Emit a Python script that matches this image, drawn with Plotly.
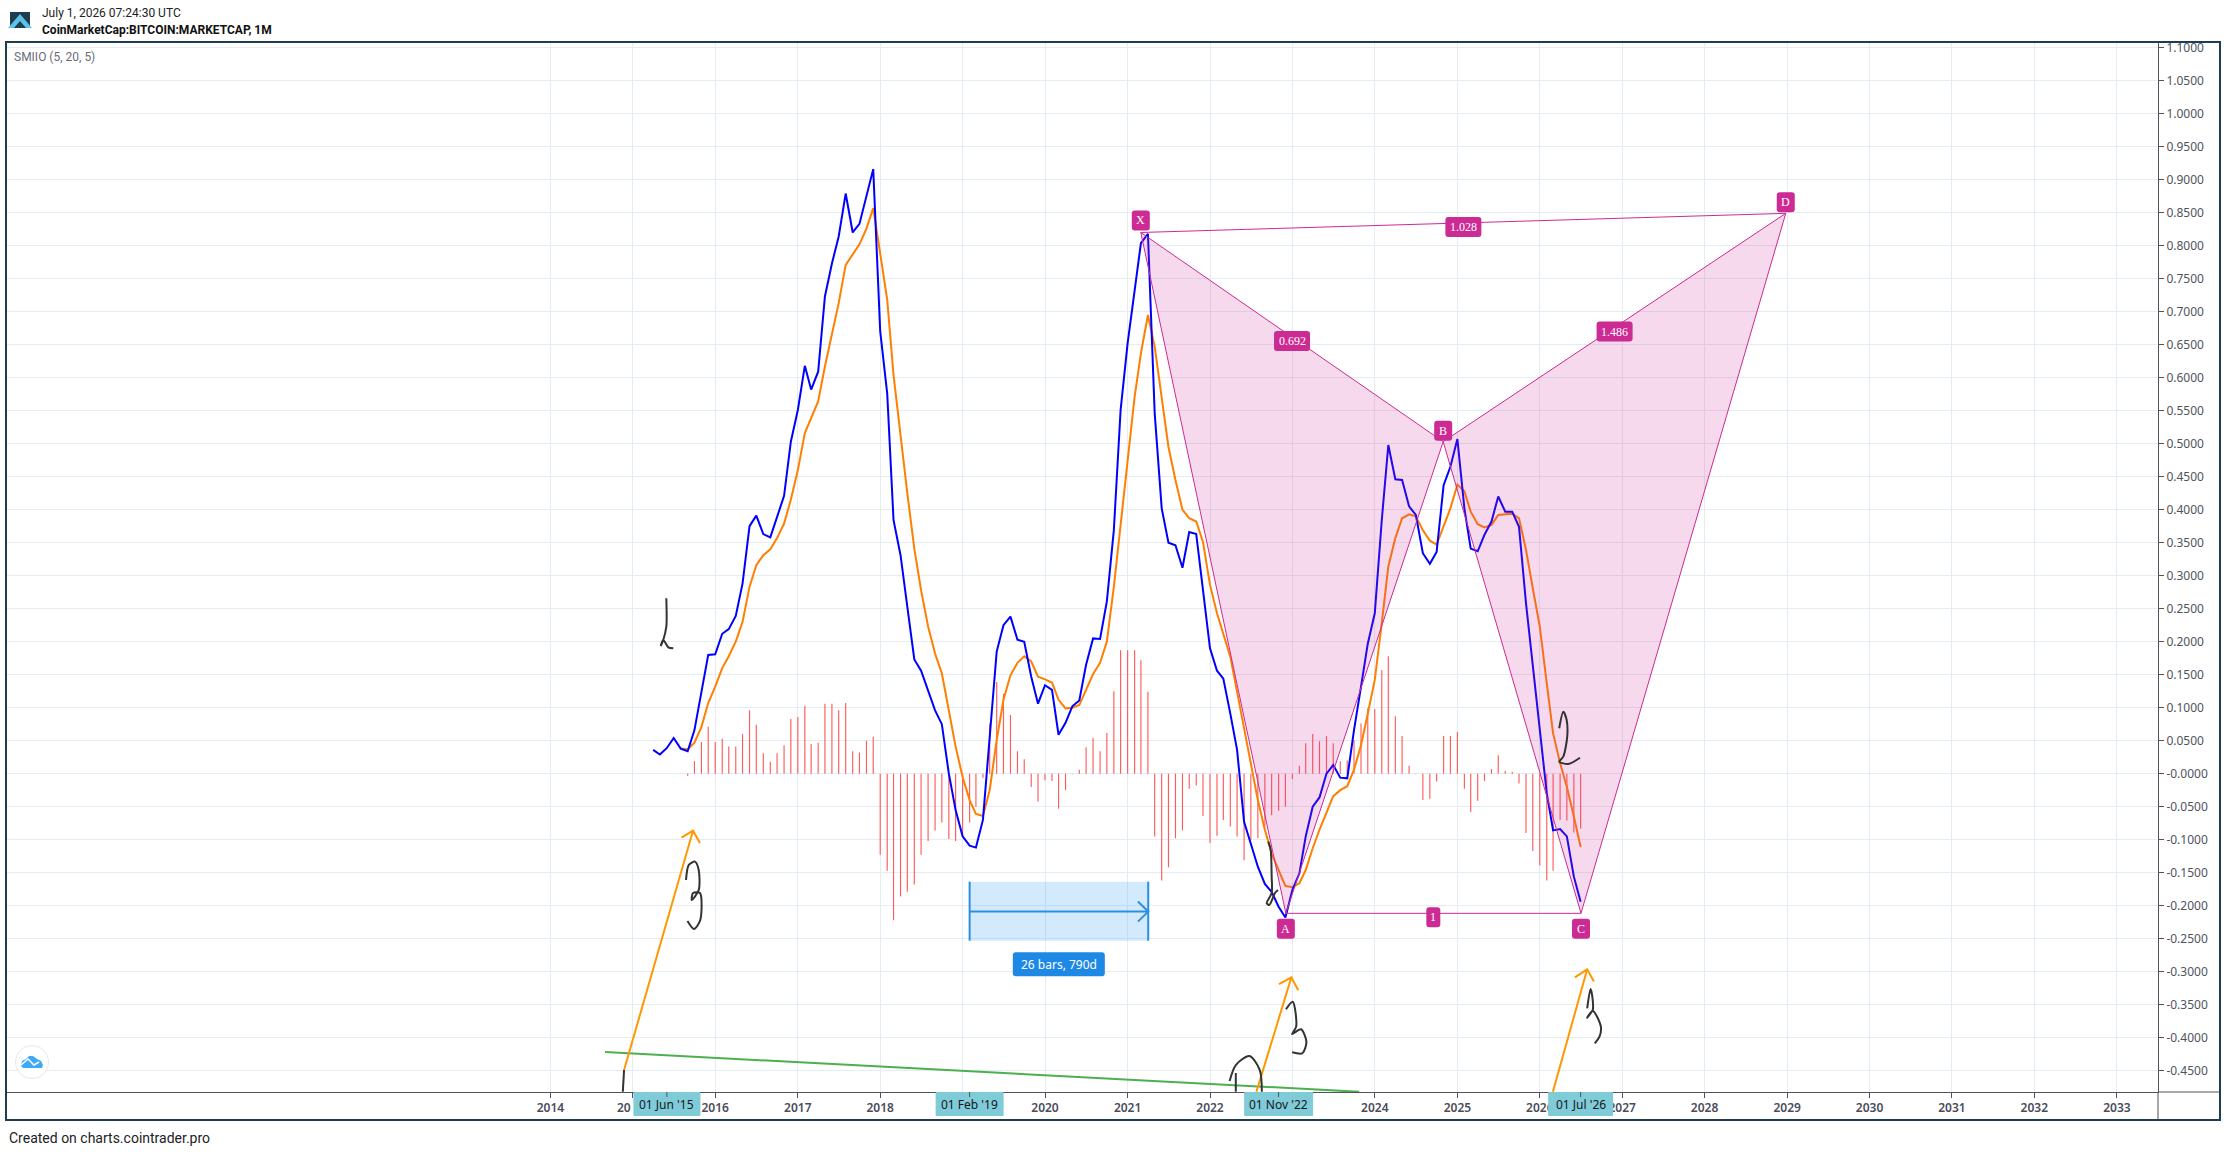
from datetime import datetime, timedelta

import pandas as pd
import plotly.graph_objects as go

# monthly SMIIO values
smi_start = "2015-04-01"
smi_values = [
    .036, .029, .039, .054, .038, .034, .066, .123, .18,
    .181, .212, .219, .239, .288, .375, .391, .363, .358, .39, .421, .503,
    .551, .618, .582, .609, .723, .773, .814, .879, .82, .833, .877, .916,
    .67, .576, .384, .331, .253, .173, .156, .127, .096, .075, .0, -.055,
    -.095, -.109, -.112, -.07, .061, .185, .225, .238, .203, .2, .147, .106,
    .134, .127, .059, .077, .102, .111, .165, .205, .204, .261, .369, .551,
    .652, .733, .804, .818, .546, .402, .35, .346, .312, .366, .363, .278,
    .19, .156, .144, .091, .036, -.073, -.108, -.141, -.167, -.179, -.2015, -.218,
    -.176, -.151, -.095, -.05, -.036, 0, .013, -.006, -.007, .066, .132, .197,
    .243, .384, .498, .446, .445, .405, .392, .334, .318, .336, .437, .465,
    .507, .402, .341, .337, .362, .382, .42, .397, .397, .374, .258, .167,
    .066, -.03, -.086, -.084, -.095, -.156, -.194,
]
signal_start = "2015-08-01"
signal_values = [
    .038, .037, .047, .071, .107,
    .132, .16, .178, .2, .23, .283, .316, .331, .34, .357, .379, .415,
    .46, .516, .538, .564, .617, .667, .713, .771, .787, .802, .826, .857,
    .788, .718, .604, .511, .425, .341, .278, .223, .182, .152, .096, .041,
    -.005, -.04, -.061, -.064, -.025, .051, .112, .149, .168, .178, .17, .147,
    .143, .138, .112, .099, .1, .104, .127, .151, .168, .2, .283, .374,
    .47, .571, .637, .695, .647, .571, .495, .445, .4, .387, .382, .351,
    .286, .243, .21, .177, .124, .069, .011, -.04, -.085, -.121, -.146, -.17,
    -.172, -.166, -.146, -.113, -.085, -.058, -.034, -.025, -.019, .006, .043, .091,
    .142, .228, .314, .357, .387, .393, .39, .369, .353, .347, .374, .402,
    .438, .428, .397, .378, .373, .377, .392, .393, .394, .387, .339, .281,
    .223, .137, .061, .016, -.02, -.065, -.111,
]
hist_start = "2015-09-01"
hist_values = [
    -.003, .019, .048, .071,
    .048, .053, .041, .041, .06, .096, .074, .031, .018, .031, .043, .083,
    .086, .103, .045, .047, .106, .106, .096, .107, .034, .032, .05, .056,
    -.123, -.147, -.222, -.186, -.179, -.168, -.123, -.102, -.086, -.074, -.099, -.102,
    -.095, -.074, -.05, -.006, .076, .139, .121, .089, .034, .022, -.02, -.042,
    -.01, -.011, -.053, -.025, -.001, .006, .04, .054, .034, .062, .125, .187,
    .187, .187, .172, .124, -.095, -.162, -.142, -.098, -.086, -.023, -.018, -.064,
    -.105, -.094, -.07, -.08, -.095, -.131, -.1, -.098, -.08, -.063, -.056, -.05,
    -.008, .012, .046, .06, .049, .057, .046, .019, .02, .051, .076, .099,
    .098, .157, .178, .087, .057, .012, -.001, -.04, -.038, -.012, .057, .057,
    .063, -.023, -.058, -.041, -.011, .007, .028, .004, .003, -.015, -.09, -.117,
    -.139, -.162, -.147, -.07, -.071, -.089, -.083,
]

# XABCD pattern
pattern_names = ["X", "A", "B", "C", "D"]
pattern_years = [2021.16, 2022.92, 2024.83, 2026.5, 2028.985]
pattern_values = [.82, -.2116, .503, -.2116, .849]
ratio_labels = [("X", "D", "1.028"), ("X", "B", "0.692"), ("B", "D", "1.486"), ("A", "C", "1")]

# date range tool
range_years = [2019.085, 2021.25]
range_values = [-.1636, -.253]
range_mid = -.209
range_label = "26 bars, 790d"

trend_years = [2014.662, 2023.81]
trend_values = [-.4217, -.482]

# orange arrows: shaft plus head, as (years, values)
arrows = [
    ([2014.893, 2015.73, 2015.59, 2015.73, 2015.814], [-.449, -.0864, -.097, -.0864, -.105]),
    ([2022.563, 2022.987, 2022.837, 2022.987, 2023.071], [-.482, -.3085, -.319, -.3085, -.328]),
    ([2026.159, 2026.575, 2026.426, 2026.575, 2026.657], [-.482, -.2964, -.3085, -.2964, -.315]),
]

# handwritten marks
scribbles = [
    ([2014.893, 2014.878], [-.449, -.482]),
    ([2015.406, 2015.406, 2015.369, 2015.338, 2015.369, 2015.43, 2015.491],
     [.2658, .2227, .2026, .1935, .2026, .1915, .19]),
    ([2015.645, 2015.679, 2015.754, 2015.799, 2015.799, 2015.715, 2015.73, 2015.814, 2015.818, 2015.742, 2015.663],
     [-.1611, -.1383, -.1333, -.1459, -.1762, -.1914, -.1808, -.1808, -.2217, -.2353, -.2232]),
    ([2022.707, 2022.736, 2022.748, 2022.748, 2022.688, 2022.719, 2022.788, 2022.825],
     [-.103, -.1156, -.156, -.1808, -.1959, -.1989, -.1808, -.1762]),
    ([2026.236, 2026.285, 2026.326, 2026.333, 2026.285, 2026.236, 2026.346, 2026.488],
     [.0688, .0939, .0814, .0561, .0258, .0182, .0147, .0242]),
    ([2022.238, 2022.313, 2022.479, 2022.604, 2022.629], [-.4656, -.4414, -.4277, -.449, -.4818]),
    ([2022.313, 2022.313], [-.4535, -.4818]),
    ([2022.921, 2023.004, 2023.046, 2022.996, 2023.104, 2023.17, 2023.121, 2022.996],
     [-.357, -.3455, -.3833, -.3944, -.3873, -.406, -.4236, -.4221]),
    ([2026.575, 2026.616, 2026.642, 2026.642, 2026.575, 2026.642, 2026.741, 2026.724, 2026.667],
     [-.3555, -.3262, -.3429, -.358, -.3697, -.3591, -.3833, -.3985, -.4085]),
]

year_ticks = list(range(2014, 2034))
# 2019 and 2023 sit fully under the crosshair boxes, 2015 shows only its first digits
covered_years = [2015, 2019, 2023]
price_ticks = [round(-0.45 + i * 0.05, 2) for i in range(32)]
cross_dates = ["2015-06-01", "2019-02-01", "2022-11-01", "2026-07-01"]
cross_labels = ["01 Jun '15", "01 Feb '19", "01 Nov '22", "01 Jul '26"]
cross_widths = [67, 68, 69, 65]

PINK = "#cc2b93"
BORDER = "#1f3d50"
AXIS = "#50535e"
GRID = "#e4edf3"
FONT = "Roboto"


def yr(y):
    year = int(y)
    return (datetime(year, 1, 1) + timedelta(days=(y - year) * 365.25)).isoformat()


def px_x(p):
    return (p - 7) / 2151


def px_y(p):
    return (1092 - p) / 1049


def pill_path(w, h, r, dy=0):
    # rounded box in pixels round its anchor, dy is up
    x0, x1, y0, y1 = -w / 2, w / 2, dy - h / 2, dy + h / 2
    return (f"M{x0 + r},{y0} L{x1 - r},{y0} Q{x1},{y0} {x1},{y0 + r} L{x1},{y1 - r} Q{x1},{y1} {x1 - r},{y1} "
            f"L{x0 + r},{y1} Q{x0},{y1} {x0},{y1 - r} L{x0},{y0 + r} Q{x0},{y0} {x0 + r},{y0} Z")


def pill(x, y, w, h, color, yref="y", r=3, dy=0):
    return dict(type="path", xref="x", yref=yref, xsizemode="pixel", ysizemode="pixel",
                xanchor=x, yanchor=y, path=pill_path(w, h, r, dy), fillcolor=color,
                line=dict(width=0), layer="above")


def paper_path(points, close=True):
    d = "M" + " L".join(f"{px_x(a)},{px_y(b)}" for a, b in points)
    return d + (" Z" if close else "")


def note(text, x, y, size=12, color="#222222", bold=False, family=FONT):
    return dict(text=f"<b>{text}</b>" if bold else text, xref="paper", yref="paper", x=px_x(x), y=px_y(y),
                xanchor="left", yanchor="middle", showarrow=False, font=dict(family=family, size=size, color=color))


points = {n: (yr(a), b, a) for n, a, b in zip(pattern_names, pattern_years, pattern_values)}

fig = go.Figure()

fig.add_trace(go.Bar(
    x=pd.date_range(hist_start, periods=len(hist_values), freq="MS"),
    y=hist_values,
    width=4.4e8,
    marker=dict(color="rgba(255,82,82,0.95)", line=dict(width=0)),
))
fig.add_trace(go.Scatter(
    x=pd.date_range(signal_start, periods=len(signal_values), freq="MS"),
    y=signal_values, mode="lines", line=dict(color="#ff7f00", width=2),
))
fig.add_trace(go.Scatter(
    x=pd.date_range(smi_start, periods=len(smi_values), freq="MS"),
    y=smi_values, mode="lines", line=dict(color="#0000ff", width=2),
))

# pattern wings
for a, b, c in [("X", "A", "B"), ("B", "C", "D")]:
    fig.add_trace(go.Scatter(
        x=[points[a][0], points[b][0], points[c][0], points[a][0]],
        y=[points[a][1], points[b][1], points[c][1], points[a][1]],
        mode="lines", fill="toself", fillcolor="rgba(204,43,147,0.18)",
        line=dict(color=PINK, width=1),
    ))
for a, b, _ in ratio_labels[:1] + ratio_labels[3:]:
    fig.add_trace(go.Scatter(
        x=[points[a][0], points[b][0]], y=[points[a][1], points[b][1]],
        mode="lines", line=dict(color=PINK, width=1),
    ))

# date range tool
fig.add_trace(go.Scatter(
    x=[yr(range_years[0]), yr(range_years[1]), yr(range_years[1]), yr(range_years[0]), yr(range_years[0])],
    y=[range_values[0], range_values[0], range_values[1], range_values[1], range_values[0]],
    mode="lines", fill="toself", fillcolor="rgba(33,150,243,0.2)", line=dict(width=0),
))
for xs, ys in [
    ([range_years[0]] * 2, range_values),
    ([range_years[1]] * 2, range_values),
    (range_years, [range_mid] * 2),
    ([range_years[1] - .125, range_years[1], range_years[1] - .125],
     [range_mid + .0152, range_mid, range_mid - .0152]),
]:
    fig.add_trace(go.Scatter(x=[yr(v) for v in xs], y=ys, mode="lines", line=dict(color="#2a8fe0", width=2)))

fig.add_trace(go.Scatter(
    x=[yr(v) for v in trend_years], y=trend_values, mode="lines", line=dict(color="#4caf50", width=2),
))
for xs, ys in arrows:
    fig.add_trace(go.Scatter(x=[yr(v) for v in xs], y=ys, mode="lines", line=dict(color="#ff9800", width=2)))
for xs, ys in scribbles:
    fig.add_trace(go.Scatter(x=[yr(v) for v in xs], y=ys, mode="lines",
                             line=dict(color="#333333", width=2, shape="spline", smoothing=0.8)))

shapes = []
annotations = []

# letter and ratio badges
letter_shift = {"X": 12, "A": -15.5, "B": 11, "C": -15.5, "D": 11}
for name, (x, y, _) in points.items():
    shapes.append(pill(x, y, 18, 20, PINK, dy=letter_shift[name]))
    annotations.append(dict(text=name, x=x, y=y, yshift=letter_shift[name], yanchor="middle", showarrow=False,
                            font=dict(family="Liberation Serif", size=12, color="white")))
for a, b, text in ratio_labels:
    mid_year = (points[a][2] + points[b][2]) / 2
    mid_value = (points[a][1] + points[b][1]) / 2
    shapes.append(pill(yr(mid_year), mid_value, 14 if text == "1" else 36, 20, PINK, dy=-4))
    annotations.append(dict(text=text, x=yr(mid_year), y=mid_value, yshift=-4, yanchor="middle", showarrow=False,
                            font=dict(family="Liberation Serif", size=12, color="white")))

# range tool badge
range_center = yr(sum(range_years) / 2)
shapes.append(pill(range_center, range_values[1], 92, 24, "#1e88e5", dy=-23.5))
annotations.append(dict(text=range_label, x=range_center, y=range_values[1], yshift=-23.5, yanchor="middle",
                        showarrow=False, font=dict(family="Noto Sans", size=12, color="white")))

# crosshair date boxes on the time axis
for date, label, width in zip(cross_dates, cross_labels, cross_widths):
    shapes.append(pill(date, px_y(1092), width, 24, "#80cbd8", yref="paper", r=1, dy=-12))
    shapes.append(dict(type="line", xref="x", yref="paper", x0=date, x1=date, y0=px_y(1092), y1=px_y(1097),
                       line=dict(color=AXIS, width=1), layer="above"))
    annotations.append(dict(text=label, x=date, xref="x", y=px_y(1104), yref="paper", yanchor="middle",
                            showarrow=False, font=dict(family="Noto Sans", size=12, color="#131722")))

# the visible stub of the 2015 label, left of its crosshair box
annotations.append(dict(text="20", x=px_x(633), y=px_y(1107), xref="paper", yref="paper", xanchor="right",
                        yanchor="middle", showarrow=False,
                        font=dict(family="Noto Sans", size=12, color="#4a4c5a", weight=600)))

# frame and axis extensions
shapes.append(dict(type="rect", xref="paper", yref="paper", x0=px_x(6), x1=px_x(2220), y0=px_y(1120), y1=px_y(42),
                   line=dict(color=BORDER, width=2), layer="above"))
shapes.append(dict(type="line", xref="paper", yref="paper", x0=1, x1=px_x(2219), y0=0, y1=0,
                   line=dict(color=AXIS, width=1), layer="above"))
shapes.append(dict(type="line", xref="paper", yref="paper", x0=1, x1=1, y0=0, y1=px_y(1119),
                   line=dict(color=AXIS, width=1), layer="above"))

# logo in the header
shapes.append(dict(type="path", xref="paper", yref="paper", layer="above", line=dict(width=0), fillcolor=BORDER,
                   path=paper_path([(10, 12), (30, 12), (30, 28), (10, 28)])))
shapes.append(dict(type="path", xref="paper", yref="paper", layer="above", line=dict(width=0), fillcolor="#5cc3e6",
                   path=paper_path([(8, 28), (20, 14), (32, 28), (26, 28), (20, 21), (14, 28)])))

# cloud badge in the corner
shapes.append(dict(type="circle", xref="paper", yref="paper", x0=px_x(15.5), x1=px_x(48.5),
                   y0=px_y(1078.5), y1=px_y(1045.5), fillcolor="white", line=dict(color="#e8e8e8", width=1),
                   layer="above"))
shapes.append(dict(type="path", xref="paper", yref="paper", layer="above", line=dict(width=0), fillcolor="#3fa9f5",
                   path=paper_path([(21, 1066), (22, 1061), (26, 1059), (29, 1056), (33, 1056), (37, 1059),
                                    (41, 1061), (43, 1065), (42, 1068), (23, 1068)])))
shapes.append(dict(type="path", xref="paper", yref="paper", layer="above", line=dict(color="white", width=1.5),
                   path=paper_path([(21, 1065), (28, 1059), (34, 1065), (39, 1062)], close=False)))

annotations.append(note("July 1, 2026 07:24:30 UTC", 40, 13))
annotations.append(note("CoinMarketCap:BITCOIN:MARKETCAP, 1M", 40, 30, size=12, bold=True, color="#111111"))
annotations.append(note("SMIIO (5, 20, 5)", 12, 57, color="#6a6d78"))
annotations.append(note("Created on charts.cointrader.pro", 7, 1138, size=14))

fig.update_layout(
    width=2226,
    height=1152,
    autosize=False,
    margin=dict(l=7, r=68, t=43, b=60),
    paper_bgcolor="white",
    plot_bgcolor="white",
    showlegend=False,
    hovermode=False,
    shapes=shapes,
    annotations=annotations,
    xaxis=dict(
        type="date",
        range=[yr(2007.409), yr(2033.498)],
        tickmode="array",
        tickvals=[f"{y}-01-01" for y in year_ticks],
        ticktext=["" if y in covered_years else str(y) for y in year_ticks],
        ticks="outside",
        ticklen=5,
        tickcolor=AXIS,
        tickfont=dict(family="Noto Sans", size=12, color="#4a4c5a", weight=600),
        showgrid=True,
        gridcolor=GRID,
        gridwidth=1,
        showline=True,
        linecolor=AXIS,
        linewidth=1,
        zeroline=False,
    ),
    yaxis=dict(
        side="right",
        range=[-.4823, 1.1071],
        tickmode="array",
        tickvals=price_ticks,
        ticktext=[f"{v:.4f}" if v > 0 else f"-{abs(v):.4f}" for v in price_ticks],
        ticks="outside",
        ticklen=5,
        tickcolor=AXIS,
        tickfont=dict(family="Noto Sans", size=12, color="#50535e"),
        showgrid=True,
        gridcolor=GRID,
        gridwidth=1,
        showline=True,
        linecolor=AXIS,
        linewidth=1,
        zeroline=False,
    ),
)

# the page's default body margin would push the chart off the window
fig.write_html("out.html", config=dict(displayModeBar=False),
               post_script="document.body.style.margin='0';")
